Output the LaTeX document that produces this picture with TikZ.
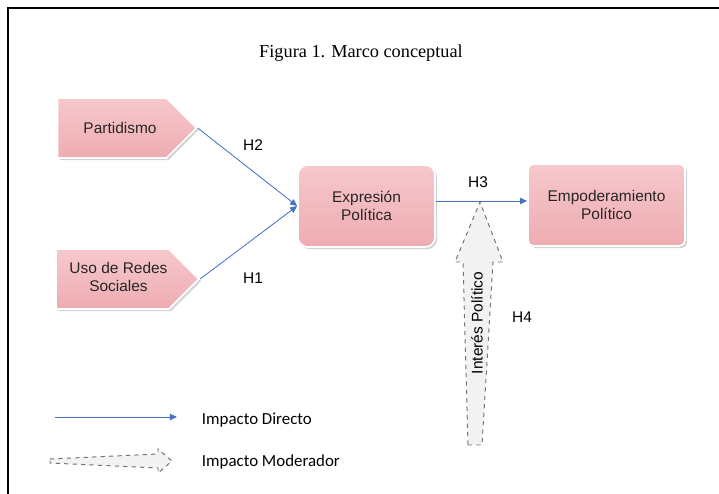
\documentclass[tikz,border=0pt]{standalone}
\usepackage{fontspec}
\setmainfont{Liberation Sans}
\newfontfamily\titlefont{Liberation Serif}
\newfontfamily\leyfont{Carlito}
\usepackage{tikz}
\usetikzlibrary{shapes.symbols,shadows,arrows.meta,calc}
\definecolor{rosa}{RGB}{238,172,178}
\definecolor{rosaclaro}{RGB}{246,200,204}
\definecolor{azul}{RGB}{68,114,196}
\colorlet{grismod}{black!55}
\tikzstyle{caja}=[draw=white,line width=1.2pt,top color=rosaclaro,bottom color=rosa,text=black!85,align=center,font=\fontsize{11}{13}\selectfont,drop shadow={opacity=.35,shadow xshift=1.5pt,shadow yshift=-1.5pt}]
\tikzstyle{flecha}=[caja,shape=signal,signal to=east,signal pointer angle=90,minimum width=3.475cm,minimum height=1.5cm]
\tikzstyle{redonda}=[caja,rounded corners=7pt,minimum height=2.05cm]
\tikzstyle{directo}=[azul,line width=.6pt,-{Triangle[length=5pt,width=4.5pt]}]
\tikzstyle{moder}=[draw=grismod,dashed,fill=black!5,line width=.7pt]
\tikzstyle{hip}=[font=\fontsize{11}{13}\selectfont]
\tikzstyle{ley}=[anchor=west,font=\leyfont\fontsize{12}{14}\selectfont]

\begin{document}
\begin{tikzpicture}[x=0.025cm,y=-0.025cm]
	\useasboundingbox (0,0) rectangle (719,494);
	\draw[line width=1.2pt] (8,494) -- (8,8) -- (719,8);
	\node (titulo) at (361,53) {\titlefont\fontsize{13}{15}\selectfont Figura 1. Marco conceptual};
	% cajas
	\node[flecha] (part) at (112,128) {\hspace*{4mm}Partidismo};
	\node[flecha,inner xsep=1pt] (redes) at (112.5,279) {\hspace*{3mm}\begin{tabular}{@{}c@{}}Uso de Redes\\Sociales\end{tabular}};
	\node[redonda,minimum width=3.425cm] (expr) at (366.5,206) {Expresión\\Política};
	\node[redonda,rounded corners=4pt,minimum width=3.925cm] (empo) at (606.5,205) {Empoderamiento\\Político};
	% impacto directo
	\draw[directo] (part.east) -- (expr.west);
	\draw[directo] (redes.east) -- (expr.west);
	\draw[directo] (expr.east |- 0,201) -- (empo.west |- 0,201);
	\node[hip] (h2) at (253,145) {H2};
	\node[hip] (h1) at (253,278) {H1};
	\node[hip] (h3) at (478,182) {H3};
	\node[hip] (h4) at (522,317) {H4};
	% impacto moderador
	\coordinate (mod) at (480,202);
	\draw[moder] (468,445) -- (482,445) -- (493,262) -- (503,262) -- (mod) -- (455,262) -- (463,262) -- cycle;
	\node[hip,rotate=90] (interes) at (477,323) {Interés Político};
	% leyenda
	\coordinate (ld1) at (55,417);
	\coordinate (ld2) at (177,417);
	\draw[directo] (ld1) -- (ld2);
	\node[ley] (ldir) at (197,420) {Impacto Directo};
	\coordinate (lm) at (172,461);
	\draw[moder] (50,459) -- (158,454) -- (158,449) -- (lm) -- (158,473) -- (158,468) -- (50,463) -- cycle;
	\node[ley] (lmod) at (197,462) {Impacto Moderador};
\end{tikzpicture}
\end{document}
